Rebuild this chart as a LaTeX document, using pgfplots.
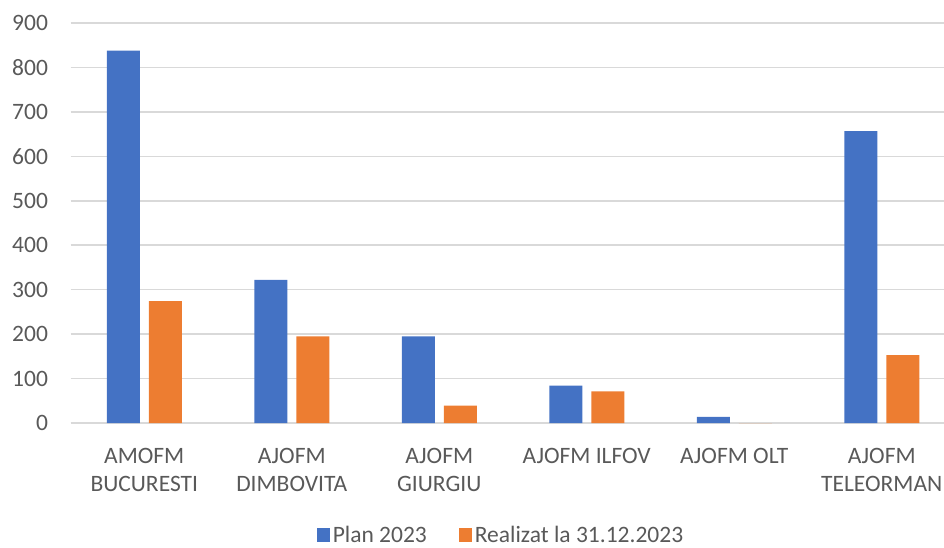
\documentclass[border=0pt]{standalone}
\usepackage{pgfplots}
\pgfplotsset{compat=1.18}
\usepackage{fontspec}
\setmainfont{Carlito}
\definecolor{cblue}{HTML}{4472C4}
\definecolor{corange}{HTML}{ED7D31}
\definecolor{cgrid}{HTML}{D9D9D9}
\definecolor{ctext}{HTML}{595959}
\newcommand{\lf}{\fontsize{23.5}{28}\selectfont}
\begin{document}
\begin{tikzpicture}[x=1pt,y=1pt]
\path[use as bounding box] (0,0) rectangle (944,547);
\begin{axis}[
  at={(70.5pt,124pt)}, anchor=south west,
  width=885pt, height=400pt, scale only axis,
  ybar=9pt, bar width=33pt,
  xmin=-0.5, xmax=5.5, ymin=0, ymax=900,
  xtick={0,1,2,3,4,5},
  xticklabels={{AMOFM\\BUCURESTI},{AJOFM\\DIMBOVITA},{AJOFM\\GIURGIU},{AJOFM ILFOV},{AJOFM OLT},{AJOFM\\TELEORMAN}},
  ytick={0,100,...,900},
  /pgf/number format/assume math mode=true,
  ymajorgrids, grid style={cgrid, line width=1.5pt},
  major tick length=0pt,
  axis x line*=bottom,
  axis y line*=left,
  y axis line style={draw=none},
  x axis line style={cgrid, line width=1.5pt, -},
  xticklabel style={font=\lf, text=ctext, align=center, anchor=north, yshift=-22pt},
  yticklabel style={font=\lf, text=ctext, anchor=east, xshift=-19pt},
  legend style={font=\lf, text=ctext, draw=none, fill=none, at={(0.487,-0.28)}, anchor=center, legend columns=2, nodes={inner xsep=2.5pt, inner ysep=0pt}, /tikz/every even column/.append style={column sep=30pt}},
  legend image code/.code={\fill[#1] (0pt,-7pt) rectangle (13pt,7pt);},
  clip=false,
]
\addplot[fill=cblue, draw=none] coordinates {(0,838) (1,322) (2,195) (3,84) (4,14) (5,657)};
\addplot[fill=corange, draw=none] coordinates {(0,274) (1,195) (2,39) (3,71) (4,0) (5,153)};
\legend{Plan 2023, Realizat la 31.12.2023}
\end{axis}
\end{tikzpicture}
\end{document}
